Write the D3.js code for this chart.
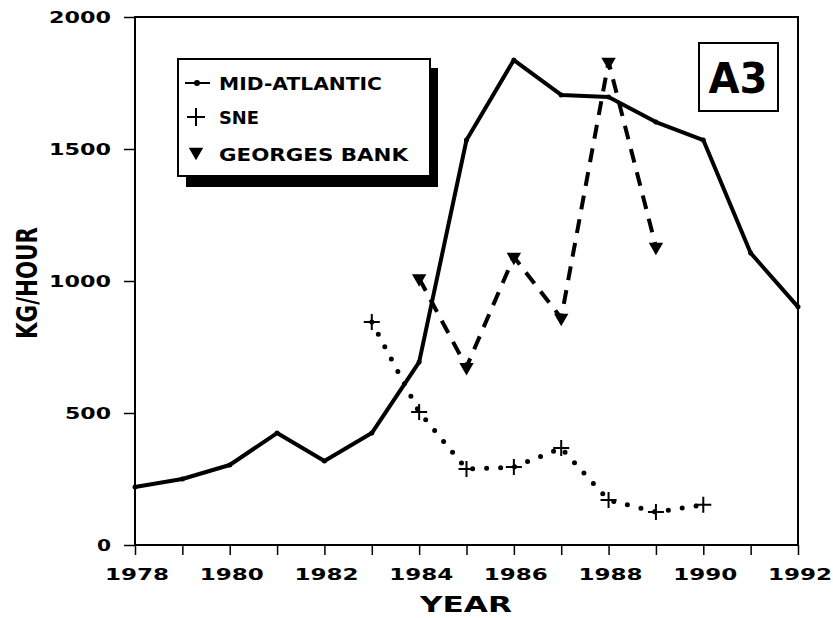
<!DOCTYPE html>
<html>
<head>
<meta charset="utf-8">
<script src="https://cdn.jsdelivr.net/npm/d3@7"></script>
<style>
  html, body { margin: 0; padding: 0; background: #fff; }
  svg { display: block; }
  text { font-family: "DejaVu Sans", sans-serif; font-weight: bold; fill: #000; }
</style>
</head>
<body>
<svg width="833" height="618"></svg>
<script>
const years = [1978, 1979, 1980, 1981, 1982, 1983, 1984, 1985, 1986, 1987, 1988, 1989, 1990, 1991, 1992];
const midAtlantic = [220, 250, 303, 424, 318, 424, 693, 1534, 1837, 1705, 1697, 1602, 1534, 1106, 902];
const sneYears = [1983, 1984, 1985, 1986, 1987, 1988, 1989, 1990];
const sne = [845, 504, 288, 295, 367, 170, 125, 152];
const gbYears = [1984, 1985, 1986, 1987, 1988, 1989];
const georgesBank = [1010, 674, 1091, 860, 1830, 1129];
const xTickLabels = [1978, 1980, 1982, 1984, 1986, 1988, 1990, 1992];
const yTickLabels = [0, 500, 1000, 1500, 2000];
const legendNames = ["MID-ATLANTIC", "SNE", "GEORGES BANK"];

const svg = d3.select("svg");
const plotLeft = 135, plotRight = 798, plotTop = 17, plotBottom = 545;

const x = d3.scaleLinear().domain([1978, 1992]).range([plotLeft, plotRight]);
const y = d3.scaleLinear().domain([0, 2000]).range([plotBottom, plotTop]);

// the scanned font is very wide: stretch glyphs to ~16px per digit
const digitWidth = 16;

// frame
svg.append("rect")
    .attr("x", plotLeft).attr("y", plotTop)
    .attr("width", plotRight - plotLeft).attr("height", plotBottom - plotTop)
    .attr("fill", "none").attr("stroke", "#000").attr("stroke-width", 2);

// axes
const xAxis = svg.append("g")
    .attr("transform", `translate(0,${plotBottom})`)
    .call(d3.axisBottom(x).tickValues(years).tickSize(10).tickFormat(""));
xAxis.select(".domain").remove();
xAxis.selectAll("line").attr("stroke-width", 1.5);

svg.append("g").selectAll("text")
    .data(xTickLabels)
    .enter().append("text")
    .attr("x", d => x(d) + 2)
    .attr("y", 580)
    .attr("text-anchor", "middle")
    .attr("font-size", 15)
    .attr("textLength", d => String(d).length * digitWidth)
    .attr("lengthAdjust", "spacingAndGlyphs")
    .text(d => d);

const yAxis = svg.append("g")
    .attr("transform", `translate(${plotLeft},0)`)
    .call(d3.axisLeft(y).tickValues(yTickLabels).tickSize(11).tickFormat(""));
yAxis.select(".domain").remove();
yAxis.selectAll("line").attr("stroke-width", 1.5);

svg.append("g").selectAll("text")
    .data(yTickLabels)
    .enter().append("text")
    .attr("x", 111)
    .attr("y", d => y(d) + 5.5)
    .attr("text-anchor", "end")
    .attr("font-size", 15)
    .attr("textLength", d => String(d).length * digitWidth - 2)
    .attr("lengthAdjust", "spacingAndGlyphs")
    .text(d => d);

svg.append("text")
    .attr("x", 466).attr("y", 612)
    .attr("text-anchor", "middle")
    .attr("font-size", 21)
    .attr("textLength", 92)
    .attr("lengthAdjust", "spacingAndGlyphs")
    .text("YEAR");

svg.append("text")
    .attr("transform", "translate(37,283) rotate(-90)")
    .attr("text-anchor", "middle")
    .attr("font-family", "Liberation Sans, sans-serif")
    .attr("font-weight", "normal")
    .attr("font-size", 28)
    .attr("textLength", 112)
    .attr("lengthAdjust", "spacingAndGlyphs")
    .text("KG/HOUR");

// series
const line = d3.line().x(d => x(d[0])).y(d => y(d[1]));

const maData = years.map((yr, i) => [yr, midAtlantic[i]]);
const sneData = sneYears.map((yr, i) => [yr, sne[i]]);
const gbData = gbYears.map((yr, i) => [yr, georgesBank[i]]);

svg.append("path")
    .datum(maData)
    .attr("d", line)
    .attr("fill", "none").attr("stroke", "#000")
    .attr("stroke-width", 4).attr("stroke-linejoin", "round");

svg.append("g").selectAll("circle")
    .data(maData)
    .enter().append("circle")
    .attr("cx", d => x(d[0])).attr("cy", d => y(d[1]))
    .attr("r", 2.5).attr("fill", "#000");

svg.append("path")
    .datum(sneData)
    .attr("d", line)
    .attr("fill", "none").attr("stroke", "#000")
    .attr("stroke-width", 5).attr("stroke-linecap", "round")
    .attr("stroke-dasharray", "0 14");

svg.append("g").selectAll("path")
    .data(sneData)
    .enter().append("path")
    .attr("d", d => `M${x(d[0]) - 8},${y(d[1])}h16M${x(d[0])},${y(d[1]) - 8}v16`)
    .attr("stroke", "#000").attr("stroke-width", 2);

svg.append("path")
    .datum(gbData)
    .attr("d", line)
    .attr("fill", "none").attr("stroke", "#000")
    .attr("stroke-width", 4)
    .attr("stroke-dasharray", "14 10");

const tri = d3.symbol().type(d3.symbolTriangle).size(90);
svg.append("g").selectAll("path")
    .data(gbData)
    .enter().append("path")
    .attr("d", tri)
    .attr("transform", d => `translate(${x(d[0])},${y(d[1])}) rotate(180)`)
    .attr("fill", "#000");

// legend
const lg = svg.append("g");
lg.append("rect")
    .attr("x", 186).attr("y", 68).attr("width", 252).attr("height", 119)
    .attr("fill", "#000");
lg.append("rect")
    .attr("x", 178).attr("y", 59).attr("width", 252).attr("height", 117)
    .attr("fill", "#fff").attr("stroke", "#000").attr("stroke-width", 2);

const rowY = [83, 117, 154];
const legendWidths = [163, 40, 189];
lg.selectAll("text.lbl")
    .data(legendNames)
    .enter().append("text")
    .attr("class", "lbl")
    .attr("x", 219)
    .attr("y", (d, i) => rowY[i] + 7)
    .attr("font-size", 17)
    .attr("textLength", (d, i) => legendWidths[i])
    .attr("lengthAdjust", "spacingAndGlyphs")
    .text(d => d);

lg.append("line")
    .attr("x1", 185).attr("x2", 210).attr("y1", rowY[0]).attr("y2", rowY[0])
    .attr("stroke", "#000").attr("stroke-width", 2);
lg.append("circle").attr("cx", 197).attr("cy", rowY[0]).attr("r", 3).attr("fill", "#000");
lg.append("path")
    .attr("d", `M187,${rowY[1]}h18M196,${rowY[1] - 9}v18`)
    .attr("stroke", "#000").attr("stroke-width", 2);
lg.append("path")
    .attr("d", tri)
    .attr("transform", `translate(196,${rowY[2] - 2}) rotate(180)`)
    .attr("fill", "#000");

// panel tag
svg.append("rect")
    .attr("x", 699).attr("y", 43).attr("width", 79).attr("height", 68)
    .attr("fill", "#fff").attr("stroke", "#000").attr("stroke-width", 2);
svg.append("text")
    .attr("x", 738).attr("y", 93)
    .attr("text-anchor", "middle")
    .attr("font-size", 42)
    .attr("textLength", 59)
    .attr("lengthAdjust", "spacingAndGlyphs")
    .text("A3");
</script>
</body>
</html>
